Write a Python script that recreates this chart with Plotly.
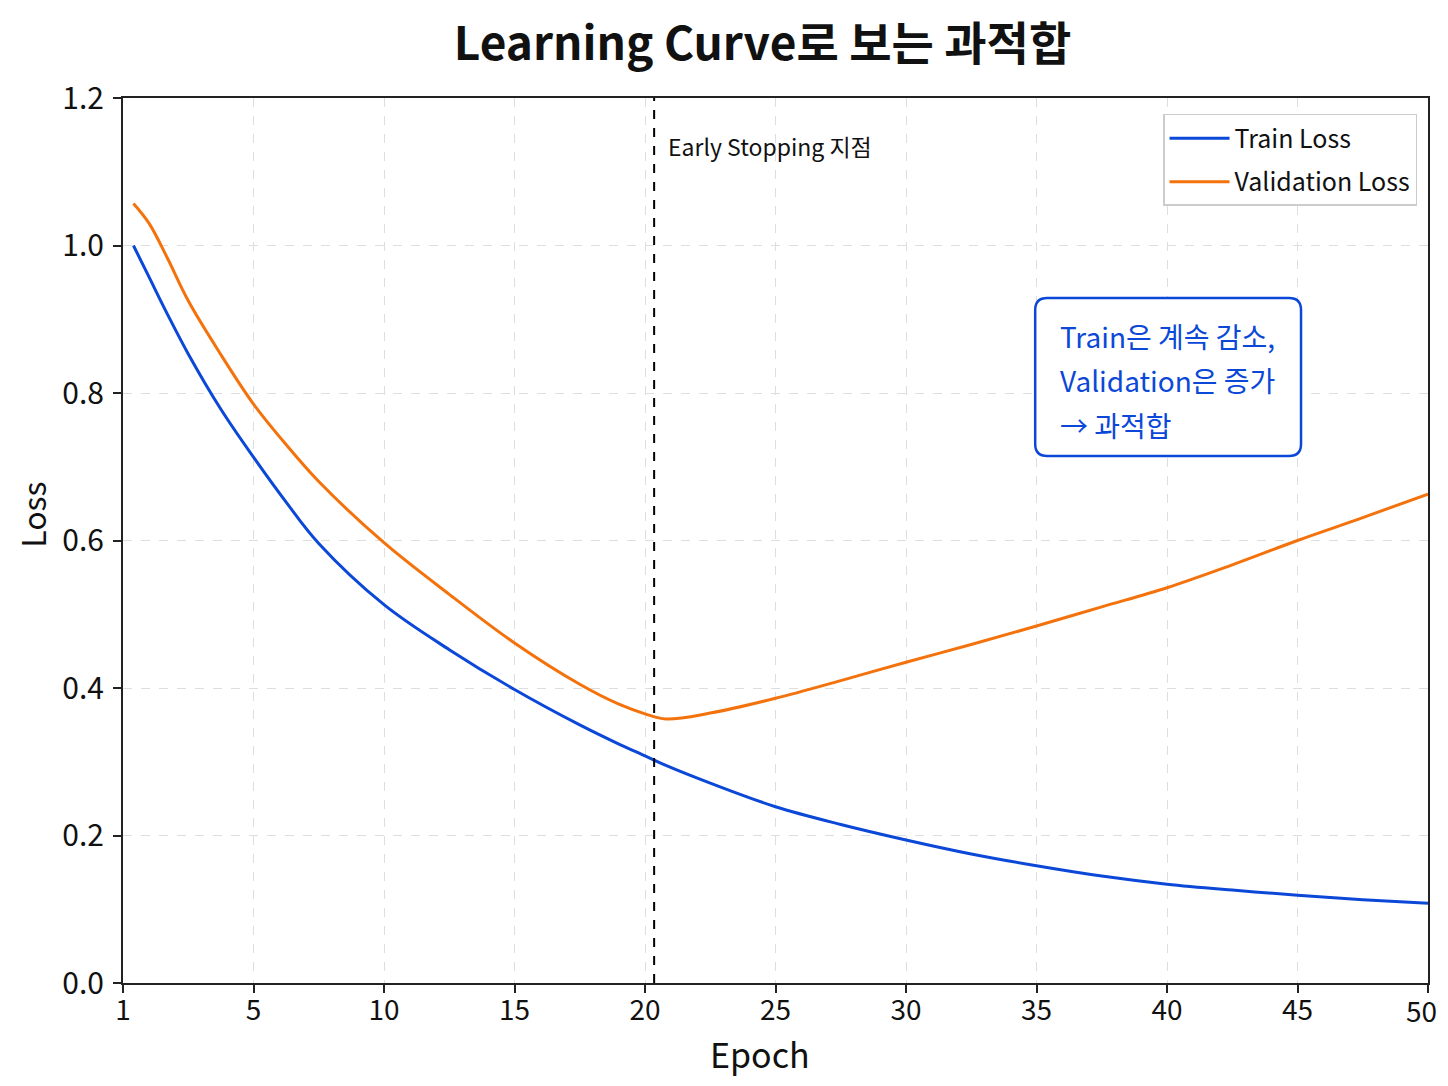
import plotly.graph_objects as go

# ---- data ----
epoch_pos = [0.4, 1.0, 1.7, 2.5, 3.75, 5, 6.25, 7.5, 10, 12.5, 15, 17.5, 19, 20, 20.8, 22.5, 25, 27.5, 30, 32.5, 35, 37.5, 40, 42.5, 45, 47.5, 50]
train_loss = [1.0, 0.957, 0.907, 0.853, 0.778, 0.713, 0.652, 0.596, 0.513, 0.452, 0.398, 0.35, 0.324, 0.308, 0.295, 0.271, 0.239, 0.215, 0.194, 0.175, 0.159, 0.145, 0.134, 0.126, 0.119, 0.113, 0.108]
val_loss = [1.057, 1.030, 0.983, 0.925, 0.852, 0.785, 0.730, 0.680, 0.597, 0.527, 0.461, 0.405, 0.378, 0.365, 0.358, 0.366, 0.386, 0.410, 0.435, 0.459, 0.484, 0.510, 0.536, 0.567, 0.600, 0.631, 0.663]
early_stop_epoch = 20.35
tick_pos = [0, 5, 10, 15, 20, 25, 30, 35, 40, 45, 50]
tick_text = ["1", "5", "10", "15", "20", "25", "30", "35", "40", "45", "50"]
y_ticks = [0.0, 0.2, 0.4, 0.6, 0.8, 1.0, 1.2]
note_lines = ["Train은 계속 감소,", "Validation은 증가", "→ 과적합"]

FONT = "Noto Sans CJK KR"
BLUE = "#0b48d8"
ORANGE = "#f4720c"

fig = go.Figure()
fig.add_trace(go.Scatter(x=epoch_pos, y=train_loss, mode="lines", name="Train Loss",
                         legendgroup="a",
                         line=dict(color=BLUE, width=3, shape="spline", smoothing=1.0)))
fig.add_trace(go.Scatter(x=epoch_pos, y=val_loss, mode="lines", name="Validation Loss",
                         legendgroup="b",
                         line=dict(color=ORANGE, width=3, shape="spline", smoothing=1.0)))

# early stopping line
fig.add_shape(type="line", xref="x", yref="y", x0=early_stop_epoch, x1=early_stop_epoch,
              y0=0, y1=1.2, line=dict(color="black", width=2, dash="dash"))
fig.add_annotation(x=early_stop_epoch, y=1.135, xref="x", yref="y", xanchor="left", xshift=12,
                   text="Early Stopping 지점", showarrow=False,
                   font=dict(family=FONT, size=23, color="#111111"))

# rounded note box
x0, x1, y0, y1 = 0.699, 0.9027, 0.5955, 0.774
rx, ry = 0.0092, 0.0136
path = (f"M {x0+rx},{y0} L {x1-rx},{y0} Q {x1},{y0} {x1},{y0+ry} "
        f"L {x1},{y1-ry} Q {x1},{y1} {x1-rx},{y1} L {x0+rx},{y1} Q {x0},{y1} {x0},{y1-ry} "
        f"L {x0},{y0+ry} Q {x0},{y0} {x0+rx},{y0} Z")
fig.add_shape(type="path", xref="paper", yref="paper", path=path,
              line=dict(color=BLUE, width=2.5), fillcolor="white", layer="above")
for i, t in enumerate(note_lines):
    fig.add_annotation(x=0.7165, y=0.731 - 0.05 * i, xref="paper", yref="paper",
                       xanchor="left", yanchor="middle", text=t, showarrow=False,
                       font=dict(family=FONT, size=28, color=BLUE))

# axis titles (placed as annotations for exact position)
fig.add_annotation(x=0.488, y=0, xref="paper", yref="paper", yshift=-70,
                   xanchor="center", yanchor="middle", text="Epoch", showarrow=False,
                   font=dict(family=FONT, size=34, color="#111111"))
fig.add_annotation(x=0, y=0.529, xref="paper", yref="paper", xshift=-91,
                   xanchor="center", yanchor="middle", text="Loss", textangle=-90,
                   showarrow=False, font=dict(family=FONT, size=32, color="#111111"))
# last x tick label kept inside the page edge
fig.add_annotation(x=tick_pos[-1], y=0, xref="x", yref="paper", yshift=-27, xshift=11,
                   xanchor="right", yanchor="middle", text=tick_text[-1], showarrow=False,
                   font=dict(family=FONT, size=28, color="#111111"))

fig.update_layout(
    width=1440, height=1076,
    margin=dict(l=115, r=20, t=90, b=101, autoexpand=False),
    paper_bgcolor="white", plot_bgcolor="white",
    title=dict(text="<b>Learning Curve로 보는 과적합</b>", x=0.524, xanchor="center",
               y=0.967, yanchor="middle", font=dict(family=FONT, size=46, color="#111111")),
    font=dict(family=FONT, color="#111111"),
    legend=dict(x=0.9916, y=0.982, xanchor="right", yanchor="top",
                bgcolor="white", bordercolor="#cccccc", borderwidth=1.5,
                font=dict(family=FONT, size=25, color="#111111"),
                itemwidth=60, tracegroupgap=8),
    showlegend=True,
)
fig.update_xaxes(range=[0, 50], tickvals=tick_pos, ticktext=tick_text[:-1] + [""],
                 automargin=False, ticklabelstandoff=-7,
                 showline=True, linecolor="#222222", linewidth=2, mirror=True,
                 ticks="outside", ticklen=8, tickwidth=2, tickcolor="#222222",
                 showgrid=True, gridcolor="#dedede", griddash="dash", gridwidth=1,
                 zeroline=False, tickfont=dict(family=FONT, size=28))
fig.update_yaxes(range=[0, 1.2], tickvals=y_ticks, tickformat=".1f", automargin=False,
                 ticklabelstandoff=3,
                 showline=True, linecolor="#222222", linewidth=2, mirror=True,
                 ticks="outside", ticklen=8, tickwidth=2, tickcolor="#222222",
                 showgrid=True, gridcolor="#dedede", griddash="dash", gridwidth=1,
                 zeroline=False, tickfont=dict(family=FONT, size=30))

fig.write_html("out.html")
